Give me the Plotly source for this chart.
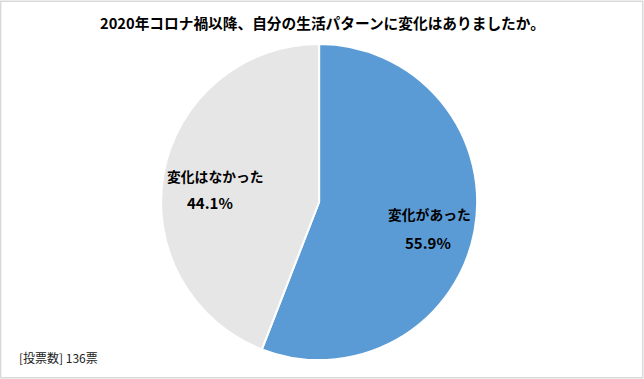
import plotly.graph_objects as go

labels = ["変化があった", "変化はなかった"]
values = [55.9, 44.1]
colors = ["#5b9bd5", "#e7e6e6"]
title_text = "2020年コロナ禍以降、自分の生活パターンに変化はありましたか。"
note_text = "[投票数] 136票"

FONT = "Noto Sans CJK JP"
W, H = 644, 379

fig = go.Figure(go.Pie(
    labels=labels,
    values=values,
    sort=False,
    direction="clockwise",
    rotation=0,
    marker=dict(colors=colors, line=dict(color="white", width=2)),
    textinfo="none",
    hoverinfo="skip",
    showlegend=False,
    domain=dict(x=[0.25, 0.741], y=[0.05, 0.884]),
))

# label positions (pixels) for each slice: (name line, percent line)
label_pos = {
    "変化があった": ((429, 214), (428, 242)),
    "変化はなかった": ((215, 176), (210, 202)),
}

ann = [
    dict(text="<b>" + title_text + "</b>", x=0.5, y=1 - 22 / H, xref="paper", yref="paper",
         yanchor="middle", showarrow=False, font=dict(size=14.7, family=FONT, color="black")),
    dict(text=note_text, x=17 / W, y=1 - 357 / H, xref="paper", yref="paper",
         xanchor="left", yanchor="middle", showarrow=False,
         font=dict(size=12, family=FONT, color="#222")),
]
for lab, val in zip(labels, values):
    (x1, y1), (x2, y2) = label_pos[lab]
    ann.append(dict(text="<b>" + lab + "</b>", x=x1 / W, y=1 - y1 / H, xref="paper", yref="paper",
                    xanchor="center", yanchor="middle", showarrow=False,
                    font=dict(size=13.8, family=FONT, color="black")))
    ann.append(dict(text="<b>%.1f%%</b>" % val, x=x2 / W, y=1 - y2 / H, xref="paper", yref="paper",
                    xanchor="center", yanchor="middle", showarrow=False,
                    font=dict(size=15, family=FONT, color="black")))

fig.update_layout(
    width=W, height=H,
    margin=dict(l=0, r=0, t=0, b=0),
    paper_bgcolor="white",
    font=dict(family=FONT, color="black"),
    annotations=ann,
    shapes=[dict(type="rect", xref="paper", yref="paper", x0=0.001, y0=0.003, x1=0.998, y1=0.997,
                 line=dict(color="#d9d9d9", width=1.5))],
)

fig.write_html("out.html", config={"displayModeBar": False},
               post_script="document.body.style.margin='0';document.body.style.overflow='hidden';")
